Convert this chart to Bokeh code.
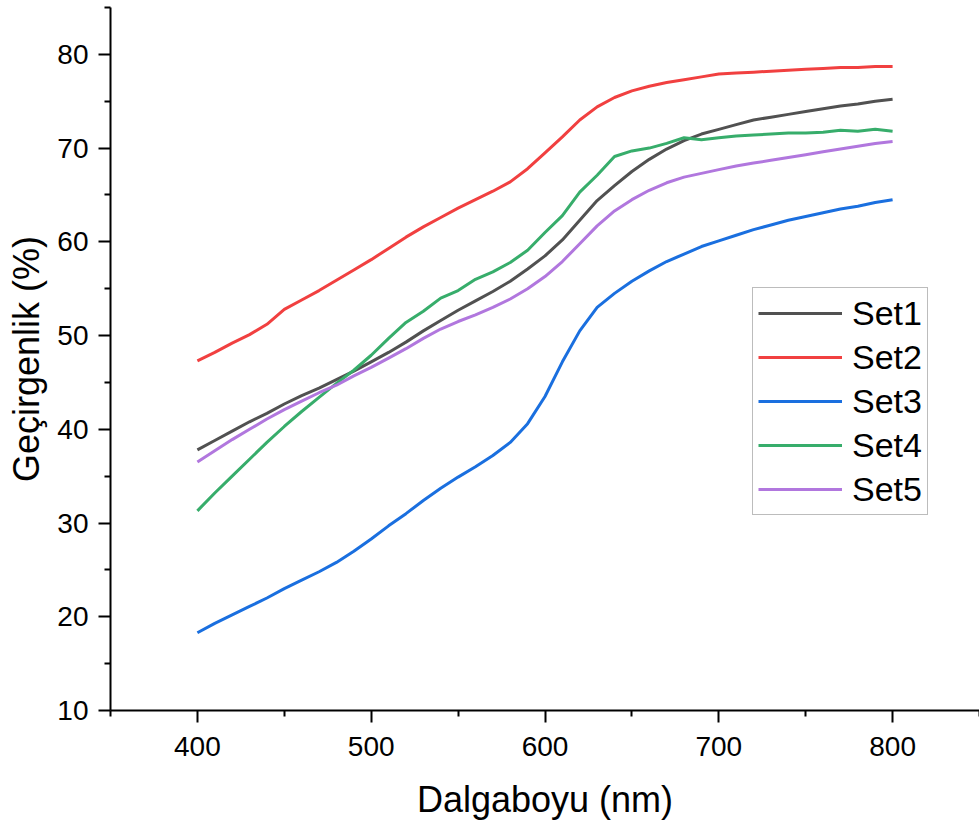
from bokeh.plotting import figure
from bokeh.models import FixedTicker, Range1d, Legend, LegendItem
from bokeh.embed import file_html
from bokeh.resources import INLINE

wavelength = list(range(400, 801, 10))

set1 = [37.8, 38.8, 39.8, 40.8, 41.7, 42.7, 43.6, 44.4, 45.3, 46.2, 47.2, 48.2, 49.3, 50.5,
        51.6, 52.7, 53.7, 54.7, 55.8, 57.1, 58.5, 60.2, 62.3, 64.4, 66.0, 67.5, 68.8, 69.9,
        70.8, 71.5, 72.0, 72.5, 73.0, 73.3, 73.6, 73.9, 74.2, 74.5, 74.7, 75.0, 75.2]
set2 = [47.3, 48.2, 49.2, 50.1, 51.2, 52.8, 53.8, 54.8, 55.9, 57.0, 58.1, 59.3, 60.5, 61.6,
        62.6, 63.6, 64.5, 65.4, 66.4, 67.8, 69.5, 71.2, 73.0, 74.4, 75.4, 76.1, 76.6, 77.0,
        77.3, 77.6, 77.9, 78.0, 78.1, 78.2, 78.3, 78.4, 78.5, 78.6, 78.6, 78.7, 78.7]
set3 = [18.3, 19.3, 20.2, 21.1, 22.0, 23.0, 23.9, 24.8, 25.8, 27.0, 28.3, 29.7, 31.0, 32.4,
        33.7, 34.9, 36.0, 37.2, 38.6, 40.6, 43.5, 47.2, 50.5, 53.0, 54.5, 55.8, 56.9, 57.9,
        58.7, 59.5, 60.1, 60.7, 61.3, 61.8, 62.3, 62.7, 63.1, 63.5, 63.8, 64.2, 64.5]
set4 = [31.3, 33.2, 35.0, 36.8, 38.6, 40.3, 41.9, 43.4, 44.9, 46.3, 47.9, 49.7, 51.4, 52.6,
        54.0, 54.8, 56.0, 56.8, 57.8, 59.1, 61.0, 62.8, 65.3, 67.1, 69.1, 69.7, 70.0, 70.5,
        71.1, 70.9, 71.1, 71.3, 71.4, 71.5, 71.6, 71.6, 71.7, 71.9, 71.8, 72.0, 71.8]
set5 = [36.5, 37.7, 38.9, 40.0, 41.1, 42.1, 43.0, 43.9, 44.7, 45.7, 46.6, 47.6, 48.6, 49.7,
        50.7, 51.5, 52.2, 53.0, 53.9, 55.0, 56.3, 57.9, 59.8, 61.7, 63.3, 64.5, 65.5, 66.3,
        66.9, 67.3, 67.7, 68.1, 68.4, 68.7, 69.0, 69.3, 69.6, 69.9, 70.2, 70.5, 70.7]

series_names = ["Set1", "Set2", "Set3", "Set4", "Set5"]
series_values = [set1, set2, set3, set4, set5]
colors = ["#515151", "#F14040", "#1A6FDF", "#37AD6B", "#B177DE"]

x_ticks = [400, 500, 600, 700, 800]
x_minor = [350, 450, 550, 650, 750, 850]
y_ticks = [10, 20, 30, 40, 50, 60, 70, 80]
y_minor = [15, 25, 35, 45, 55, 65, 75, 85]

FONT = "Liberation Sans"

p = figure(width=979, height=826, output_backend="svg", toolbar_location=None,
           x_range=Range1d(350, 850), y_range=Range1d(10, 85),
           min_border_left=110, min_border_right=0, min_border_top=7, min_border_bottom=116)
p.outline_line_color = None
p.xgrid.visible = False
p.ygrid.visible = False
p.background_fill_color = "white"
p.border_fill_color = "white"

items = []
for name, vals, c in zip(series_names, series_values, colors):
    r = p.line(wavelength, vals, line_color=c, line_width=3)
    items.append(LegendItem(label=name, renderers=[r]))

for ax in (p.xaxis[0], p.yaxis[0]):
    ax.axis_line_width = 2
    ax.axis_line_color = "black"
    ax.major_tick_line_width = 2
    ax.minor_tick_line_width = 2
    ax.major_tick_out = 12
    ax.major_tick_in = 0
    ax.minor_tick_out = 6
    ax.minor_tick_in = 0
    ax.major_label_text_font = FONT
    ax.major_label_text_font_size = "28px"
    ax.major_label_text_color = "black"
    ax.axis_label_text_font = FONT
    ax.axis_label_text_font_size = "36px"
    ax.axis_label_text_font_style = "normal"
    ax.axis_label_text_color = "black"

p.xaxis[0].ticker = FixedTicker(ticks=x_ticks, minor_ticks=x_minor)
p.yaxis[0].ticker = FixedTicker(ticks=y_ticks, minor_ticks=y_minor)
p.xaxis[0].axis_label = "Dalgaboyu (nm)"
p.yaxis[0].axis_label = "Geçirgenlik (%)"
p.xaxis[0].major_label_standoff = 14
p.yaxis[0].major_label_standoff = 10
p.xaxis[0].axis_label_standoff = 20
p.yaxis[0].axis_label_standoff = 7

legend = Legend(items=items, location=(642, 195))
legend.label_text_font = FONT
legend.label_text_font_size = "34px"
legend.label_text_color = "black"
legend.glyph_width = 84
legend.glyph_height = 40
legend.label_height = 40
legend.label_standoff = 10
legend.spacing = 4
legend.padding = 5
legend.margin = 0
legend.border_line_color = "#7a7a7a"
legend.border_line_width = 1
legend.background_fill_color = "white"
legend.background_fill_alpha = 1.0
p.add_layout(legend, "center")

open("out.html", "w").write(file_html(p, INLINE))
